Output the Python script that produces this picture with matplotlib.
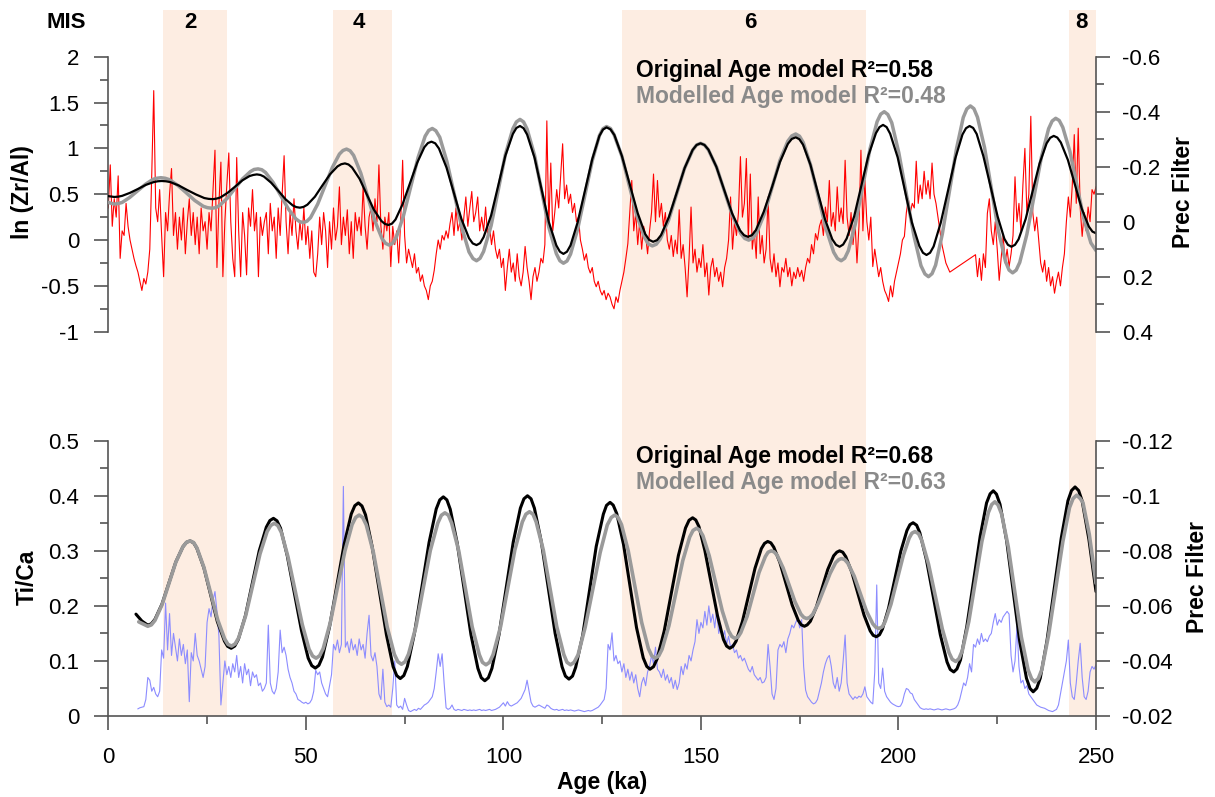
import numpy as np
import matplotlib
matplotlib.use("Agg")
import matplotlib.pyplot as plt
from matplotlib.ticker import MultipleLocator, FuncFormatter

plt.rcParams['font.family'] = ['Liberation Sans', 'DejaVu Sans']
plt.rcParams['axes.unicode_minus'] = False

# marine isotope stages (shaded), ka
mis_labels = ["2", "4", "6", "8"]
mis_start = [13.9, 56.9, 130.0, 243.1]
mis_end = [30.0, 71.7, 191.9, 250.0]
mis_label_x = [20.8, 63.5, 162.5, 246.2]

# ln(Zr/Al), 0.5 ka steps, gap between 213 and 219.5 ka
zr_age = np.r_[np.arange(0, 213.01, 0.5), np.arange(219.5, 250.01, 0.5)]
zr_al = [
    0.35, 0.82, 0.15, 0.45, 0.25, 0.70, -0.20, 0.10, 0.05, 0.40,
    0.15, 0.00, -0.10, -0.20, -0.28, -0.35, -0.45, -0.55, -0.42, -0.48,
    -0.35, -0.10, 0.72, 1.63, 0.35, 0.20, 0.55, 0.05, -0.40, 0.30,
    0.10, 0.50, 0.78, 0.05, 0.30, -0.10, 0.25, 0.00, 0.35, -0.15,
    0.20, 0.45, 0.05, 0.30, -0.05, 0.25, -0.15, 0.35, 0.10, 0.20,
    -0.10, 0.30, 0.10, 0.55, 0.98, -0.30, 0.40, 0.85, -0.40, 0.20,
    0.60, 0.95, 0.20, -0.20, -0.40, 0.90, 0.10, -0.40, 0.30, 0.05,
    -0.38, 0.35, 0.15, 0.55, 0.10, 0.30, -0.40, 0.25, 0.05, 0.20,
    0.30, -0.15, 0.40, 0.10, 0.25, -0.20, 0.35, 0.05, 0.50, 0.92,
    0.20, -0.15, 0.30, 0.05, 0.45, 0.10, -0.10, 0.20, 0.00, 0.35,
    -0.05, 0.15, -0.20, 0.10, -0.35, -0.40, -0.15, 0.25, -0.05, 0.30,
    0.10, -0.30, 0.20, -0.10, 0.35, 0.00, 0.15, 0.58, -0.05, 0.25,
    0.05, 0.33, -0.15, 0.20, -0.20, 0.30, 0.10, 0.25, 0.05, 0.58,
    0.15, -0.10, 0.25, 0.35, 0.10, 0.45, 0.20, 0.82, 0.15, -0.10,
    0.25, 0.10, 0.30, -0.29, 0.15, -0.05, 0.10, -0.25, 0.20, 0.87,
    0.05, -0.25, -0.10, -0.20, -0.30, -0.15, -0.36, -0.30, -0.45, -0.38,
    -0.50, -0.55, -0.65, -0.50, -0.45, -0.33, -0.15, 0.00, -0.10, 0.05,
    0.00, 0.10, 0.02, 0.18, 0.30, 0.05, 0.35, 0.10, 0.20, 0.00,
    0.25, 0.47, 0.15, 0.35, 0.53, 0.20, 0.30, 0.47, 0.10, 0.25,
    0.10, 0.36, 0.05, 0.15, -0.05, 0.10, -0.10, -0.20, -0.10, -0.30,
    -0.20, -0.55, -0.30, -0.10, -0.35, -0.25, -0.45, -0.15, -0.40, -0.50,
    -0.35, -0.07, -0.30, -0.45, -0.65, -0.40, -0.30, -0.45, -0.35, -0.20,
    -0.25, -0.05, 1.30, 0.15, 0.84, 0.10, 0.30, 0.55, 0.35, 0.70,
    1.05, 0.45, 0.60, 0.40, 0.50, 0.30, 0.40, 0.20, 0.25, 0.00,
    -0.10, -0.22, -0.15, -0.30, -0.36, -0.30, -0.45, -0.51, -0.45, -0.55,
    -0.60, -0.55, -0.65, -0.58, -0.62, -0.70, -0.75, -0.62, -0.68, -0.55,
    -0.45, -0.35, -0.20, -0.04, 0.30, 0.65, 0.10, 0.30, -0.05, 0.20,
    -0.10, 0.15, 0.05, -0.15, 0.10, 0.30, 0.72, 0.20, 0.65, 0.25,
    0.40, 0.15, 0.30, 0.00, -0.10, 0.05, -0.18, 0.00, -0.15, 0.33,
    -0.20, -0.05, -0.30, -0.62, -0.20, 0.36, -0.25, -0.10, -0.35, -0.20,
    -0.30, -0.05, -0.40, -0.25, -0.60, -0.30, -0.20, -0.40, -0.30, -0.45,
    -0.35, -0.51, -0.30, -0.20, 0.00, 0.47, -0.10, 0.20, 0.05, 0.30,
    0.91, 0.25, 0.40, 0.89, 0.00, 0.72, -0.10, 0.10, -0.20, 0.47,
    -0.15, 0.05, -0.25, -0.10, 0.47, -0.20, -0.35, -0.15, -0.40, -0.25,
    -0.51, -0.30, -0.35, -0.20, -0.40, -0.30, -0.50, -0.35, -0.42, -0.30,
    -0.40, -0.33, -0.45, -0.30, -0.20, -0.25, -0.05, -0.15, 0.07, 0.00,
    0.15, 0.22, 0.05, 0.36, 0.20, 0.65, 0.15, 0.30, 0.10, 0.58,
    0.20, 0.35, 0.18, 0.87, 0.25, 0.05, 0.30, -0.05, 0.20, -0.25,
    0.15, 0.98, 0.10, 0.65, 0.20, 0.00, 0.25, -0.29, -0.10, -0.25,
    -0.40, -0.30, -0.45, -0.55, -0.60, -0.67, -0.50, -0.62, -0.45, -0.35,
    -0.25, -0.15, 0.00, 0.04, 0.30, 0.45, 0.30, 0.40, 0.35, 0.86,
    0.40, 0.60, 0.45, 0.75, 0.50, 0.65, 0.45, 0.84, 0.50, 0.40,
    0.25, 0.10, -0.05, -0.15, -0.25, -0.30, -0.35,
    -0.16, -0.40, -0.20, -0.44, -0.15, -0.30, 0.29, 0.45, 0.10, -0.05,
    0.20, -0.10, -0.44, -0.20, 0.05, -0.25, -0.10, -0.29, -0.15, 0.05,
    0.69, 0.20, 0.40, 0.10, 0.60, 1.00, 0.30, 0.50, 1.35, 0.30,
    0.10, 0.25, 0.00, -0.25, -0.35, -0.22, -0.45, -0.30, -0.50, -0.40,
    -0.58, -0.45, -0.35, -0.50, -0.30, -0.15, 0.20, 0.47, 0.25, 0.60,
    1.15, 0.40, 1.22, 0.35, 0.04, 0.30, 0.10, 0.36, 0.20, 0.55,
    0.50, 0.58,
]

# Ti/Ca, 0.5 ka steps from 7.5 ka
tica_age = np.arange(7.5, 250.01, 0.5)
ti_ca = [
    0.013, 0.015, 0.016, 0.017, 0.030, 0.070, 0.065, 0.045, 0.052, 0.040,
    0.035, 0.045, 0.120, 0.105, 0.205, 0.120, 0.186, 0.110, 0.150, 0.125,
    0.100, 0.140, 0.110, 0.130, 0.095, 0.120, 0.026, 0.115, 0.100, 0.150,
    0.110, 0.100, 0.085, 0.070, 0.090, 0.170, 0.195, 0.180, 0.210, 0.226,
    0.190, 0.145, 0.020, 0.060, 0.100, 0.075, 0.090, 0.070, 0.095, 0.080,
    0.110, 0.070, 0.090, 0.060, 0.095, 0.075, 0.085, 0.055, 0.080, 0.070,
    0.075, 0.055, 0.060, 0.045, 0.050, 0.060, 0.165, 0.060, 0.045, 0.040,
    0.050, 0.080, 0.156, 0.115, 0.125, 0.110, 0.085, 0.070, 0.060, 0.045,
    0.040, 0.030, 0.028, 0.025, 0.023, 0.025, 0.022, 0.024, 0.030, 0.045,
    0.083, 0.075, 0.080, 0.060, 0.050, 0.040, 0.035, 0.055, 0.075, 0.130,
    0.120, 0.138, 0.115, 0.130, 0.417, 0.125, 0.135, 0.115, 0.140, 0.120,
    0.130, 0.110, 0.140, 0.120, 0.130, 0.105, 0.150, 0.183, 0.110, 0.100,
    0.115, 0.090, 0.040, 0.030, 0.085, 0.025, 0.017, 0.020, 0.016, 0.050,
    0.100, 0.020, 0.015, 0.018, 0.012, 0.032, 0.020, 0.010, 0.008, 0.010,
    0.012, 0.010, 0.014, 0.012, 0.016, 0.020, 0.022, 0.025, 0.030, 0.035,
    0.050, 0.080, 0.113, 0.090, 0.113, 0.060, 0.015, 0.012, 0.014, 0.020,
    0.012, 0.010, 0.012, 0.011, 0.010, 0.012, 0.011, 0.010, 0.011, 0.010,
    0.011, 0.010, 0.011, 0.012, 0.010, 0.011, 0.010, 0.011, 0.012, 0.010,
    0.011, 0.012, 0.014, 0.016, 0.020, 0.024, 0.018, 0.026, 0.020, 0.018,
    0.020, 0.022, 0.024, 0.028, 0.032, 0.040, 0.048, 0.065, 0.045, 0.025,
    0.018, 0.016, 0.018, 0.020, 0.018, 0.016, 0.014, 0.020, 0.018, 0.014,
    0.012, 0.011, 0.012, 0.010, 0.011, 0.012, 0.010, 0.011, 0.010, 0.011,
    0.010, 0.009, 0.010, 0.011, 0.010, 0.009, 0.008, 0.009, 0.010, 0.009,
    0.010, 0.012, 0.014, 0.016, 0.020, 0.025, 0.030, 0.050, 0.130, 0.120,
    0.151, 0.100, 0.110, 0.095, 0.100, 0.080, 0.095, 0.070, 0.085, 0.065,
    0.080, 0.060, 0.075, 0.050, 0.035, 0.060, 0.070, 0.055, 0.080, 0.090,
    0.110, 0.095, 0.125, 0.085, 0.080, 0.070, 0.085, 0.065, 0.075, 0.060,
    0.070, 0.050, 0.065, 0.048, 0.060, 0.090, 0.075, 0.095, 0.085, 0.110,
    0.100, 0.120, 0.135, 0.175, 0.150, 0.170, 0.160, 0.190, 0.165, 0.200,
    0.170, 0.185, 0.160, 0.195, 0.150, 0.165, 0.140, 0.155, 0.130, 0.145,
    0.125, 0.130, 0.115, 0.120, 0.105, 0.110, 0.100, 0.105, 0.095, 0.085,
    0.080, 0.090, 0.075, 0.070, 0.065, 0.070, 0.060, 0.062, 0.070, 0.130,
    0.090, 0.040, 0.030, 0.050, 0.120, 0.130, 0.125, 0.135, 0.115, 0.140,
    0.150, 0.165, 0.160, 0.170, 0.177, 0.160, 0.175, 0.090, 0.047, 0.035,
    0.030, 0.025, 0.022, 0.024, 0.030, 0.045, 0.060, 0.080, 0.095, 0.105,
    0.110, 0.090, 0.060, 0.050, 0.070, 0.045, 0.060, 0.100, 0.147, 0.060,
    0.040, 0.035, 0.030, 0.035, 0.032, 0.036, 0.034, 0.040, 0.053, 0.035,
    0.030, 0.025, 0.022, 0.080, 0.238, 0.060, 0.050, 0.087, 0.045, 0.035,
    0.030, 0.025, 0.022, 0.020, 0.018, 0.017, 0.018, 0.025, 0.040, 0.050,
    0.048, 0.042, 0.040, 0.030, 0.025, 0.020, 0.015, 0.013, 0.012, 0.013,
    0.012, 0.013, 0.012, 0.011, 0.012, 0.013, 0.012, 0.011, 0.012, 0.013,
    0.012, 0.011, 0.012, 0.013, 0.015, 0.020, 0.030, 0.045, 0.060, 0.055,
    0.070, 0.095, 0.080, 0.130, 0.125, 0.140, 0.130, 0.150, 0.135, 0.140,
    0.135, 0.145, 0.150, 0.170, 0.186, 0.165, 0.175, 0.170, 0.180, 0.185,
    0.190, 0.185, 0.110, 0.080, 0.100, 0.164, 0.090, 0.060, 0.065, 0.050,
    0.055, 0.040, 0.035, 0.030, 0.025, 0.020, 0.018, 0.016, 0.015, 0.014,
    0.012, 0.010, 0.009, 0.008, 0.010, 0.012, 0.020, 0.040, 0.060, 0.080,
    0.100, 0.138, 0.060, 0.035, 0.030, 0.060, 0.100, 0.132, 0.070, 0.035,
    0.030, 0.045, 0.080, 0.090, 0.085, 0.093,
]

# precession filter, (age ka, value)
zr_prec_orig = [
    (0, -0.093), (1.5, -0.090), (2.5, -0.091), (3.5, -0.094), (5.5, -0.105), (7.5, -0.119), (9.5, -0.134), (11.5, -0.144), (12.5, -0.147),
    (13.5, -0.148), (14.6, -0.147), (15.7, -0.144), (17.8, -0.132), (20.0, -0.115), (22.2, -0.099), (24.3, -0.086), (25.4, -0.083),
    (26.5, -0.082), (27.4, -0.084), (28.35, -0.088), (30.2, -0.105), (32.05, -0.127), (33.9, -0.150), (35.75, -0.166), (36.7, -0.170),
    (37.6, -0.172), (38.5, -0.170), (39.4, -0.164), (41.2, -0.142), (43.05, -0.112), (44.9, -0.081), (46.7, -0.059), (47.6, -0.053),
    (48.5, -0.051), (49.45, -0.054), (50.4, -0.062), (52.3, -0.091), (54.2, -0.132), (56.1, -0.172), (58.0, -0.201), (58.95, -0.209),
    (59.9, -0.212), (60.8, -0.208), (61.7, -0.197), (63.6, -0.156), (65.4, -0.100), (67.2, -0.044), (69.1, -0.003), (70.0, 0.008),
    (70.9, 0.012), (71.8, 0.007), (72.7, -0.008), (74.5, -0.064), (76.35, -0.140), (78.2, -0.215), (80.0, -0.271), (80.9, -0.286),
    (81.8, -0.291), (82.75, -0.285), (83.7, -0.266), (85.6, -0.197), (87.5, -0.103), (89.4, -0.009), (91.3, 0.060), (92.25, 0.079),
    (93.2, 0.085), (94.1, 0.078), (95.0, 0.056), (96.9, -0.023), (98.7, -0.132), (100.5, -0.240), (102.4, -0.319), (103.3, -0.341),
    (104.2, -0.348), (105.1, -0.340), (106.0, -0.317), (107.9, -0.232), (109.7, -0.116), (111.5, 0.001), (113.4, 0.086), (114.3, 0.109),
    (115.2, 0.117), (116.1, 0.109), (117.0, 0.086), (118.8, 0.002), (120.65, -0.113), (122.5, -0.228), (124.3, -0.312), (125.2, -0.335),
    (126.1, -0.343), (127.1, -0.336), (128.1, -0.315), (130.0, -0.239), (132.0, -0.135), (134.0, -0.031), (135.9, 0.045), (136.9, 0.066),
    (137.9, 0.073), (138.9, 0.067), (139.9, 0.049), (141.9, -0.017), (143.9, -0.106), (145.9, -0.196), (147.9, -0.261), (148.9, -0.279),
    (149.9, -0.285), (150.9, -0.279), (151.9, -0.262), (153.9, -0.200), (155.9, -0.115), (157.9, -0.030), (159.9, 0.032), (160.9, 0.049),
    (161.9, 0.055), (162.9, 0.049), (163.9, 0.031), (165.9, -0.036), (168.0, -0.126), (170.0, -0.217), (172.0, -0.283), (173.0, -0.301),
    (174.0, -0.307), (174.9, -0.300), (175.85, -0.280), (177.7, -0.208), (179.55, -0.108), (181.4, -0.009), (183.25, 0.064), (184.2, 0.084),
    (185.1, 0.091), (186.0, 0.083), (186.9, 0.061), (188.8, -0.020), (190.6, -0.131), (192.4, -0.241), (194.3, -0.322), (195.2, -0.344),
    (196.1, -0.352), (197.0, -0.344), (197.9, -0.320), (199.8, -0.234), (201.6, -0.116), (203.4, 0.003), (205.3, 0.089), (206.2, 0.113),
    (207.1, 0.121), (208.0, 0.113), (208.9, 0.090), (210.7, 0.004), (212.55, -0.114), (214.4, -0.231), (216.2, -0.317), (217.1, -0.340),
    (218.0, -0.348), (218.9, -0.341), (219.8, -0.319), (221.5, -0.238), (223.3, -0.129), (225.1, -0.019), (226.8, 0.062), (227.7, 0.084),
    (228.6, 0.091), (229.5, 0.084), (230.4, 0.064), (232.2, -0.010), (233.95, -0.111), (235.7, -0.211), (237.5, -0.285), (238.4, -0.305),
    (239.3, -0.312), (240.2, -0.306), (241.1, -0.288), (242.9, -0.224), (244.65, -0.135), (246.4, -0.047), (248.2, 0.018), (249.1, 0.036),
    (250.0, 0.042),
]
zr_prec_mod = [
    (0, -0.070), (1.5, -0.064), (2.5, -0.066), (3.5, -0.070), (5.4, -0.088), (7.4, -0.112), (9.4, -0.136), (11.3, -0.154), (12.3, -0.158),
    (13.3, -0.160), (14.4, -0.158), (15.45, -0.153), (17.6, -0.132), (19.75, -0.105), (21.9, -0.077), (24.05, -0.056), (25.1, -0.051),
    (26.2, -0.049), (27.2, -0.051), (28.15, -0.059), (30.1, -0.085), (32.05, -0.121), (34.0, -0.156), (35.95, -0.182), (36.9, -0.190),
    (37.9, -0.192), (38.85, -0.189), (39.8, -0.179), (41.7, -0.143), (43.65, -0.095), (45.6, -0.046), (47.5, -0.010), (48.45, 0.000),
    (49.4, 0.003), (50.3, -0.002), (51.2, -0.015), (53.0, -0.064), (54.85, -0.131), (56.7, -0.197), (58.5, -0.246), (59.4, -0.259),
    (60.3, -0.264), (61.2, -0.258), (62.1, -0.241), (63.9, -0.177), (65.7, -0.090), (67.5, -0.002), (69.3, 0.062), (70.2, 0.079),
    (71.1, 0.085), (72.0, 0.078), (72.9, 0.057), (74.7, -0.021), (76.55, -0.127), (78.4, -0.233), (80.2, -0.311), (81.1, -0.332),
    (82.0, -0.339), (82.9, -0.331), (83.9, -0.307), (85.7, -0.219), (87.6, -0.099), (89.5, 0.022), (91.3, 0.110), (92.3, 0.134),
    (93.2, 0.142), (94.1, 0.133), (95.0, 0.108), (96.9, 0.014), (98.7, -0.115), (100.5, -0.244), (102.4, -0.338), (103.3, -0.363),
    (104.2, -0.372), (105.1, -0.363), (106.0, -0.337), (107.9, -0.241), (109.7, -0.111), (111.5, 0.020), (113.4, 0.116), (114.3, 0.142),
    (115.2, 0.151), (116.1, 0.143), (117.0, 0.118), (118.8, 0.027), (120.65, -0.098), (122.5, -0.222), (124.3, -0.313), (125.2, -0.338),
    (126.1, -0.346), (127.1, -0.339), (128.0, -0.317), (130.0, -0.238), (131.9, -0.129), (133.8, -0.021), (135.8, 0.059), (136.7, 0.081),
    (137.7, 0.088), (138.7, 0.082), (139.7, 0.063), (141.8, -0.005), (143.8, -0.099), (145.8, -0.192), (147.9, -0.260), (148.9, -0.279),
    (149.9, -0.285), (150.9, -0.279), (151.9, -0.261), (154.0, -0.197), (156.0, -0.109), (158.0, -0.021), (160.1, 0.043), (161.1, 0.061),
    (162.1, 0.067), (163.1, 0.060), (164.1, 0.041), (166.1, -0.030), (168.05, -0.126), (170.0, -0.223), (172.0, -0.293), (173.0, -0.312),
    (174.0, -0.319), (174.95, -0.311), (175.9, -0.288), (177.8, -0.204), (179.75, -0.089), (181.7, 0.027), (183.6, 0.111), (184.55, 0.134),
    (185.5, 0.142), (186.4, 0.133), (187.3, 0.106), (189.1, 0.007), (190.95, -0.129), (192.8, -0.265), (194.6, -0.364), (195.5, -0.391),
    (196.4, -0.400), (197.3, -0.390), (198.3, -0.360), (200.1, -0.250), (202.0, -0.100), (203.9, 0.050), (205.7, 0.160), (206.7, 0.190),
    (207.6, 0.200), (208.5, 0.189), (209.4, 0.158), (211.1, 0.045), (212.9, -0.111), (214.7, -0.266), (216.4, -0.379), (217.3, -0.410),
    (218.2, -0.421), (219.1, -0.411), (220.0, -0.380), (221.8, -0.269), (223.55, -0.118), (225.3, 0.034), (227.1, 0.145), (228.0, 0.176),
    (228.9, 0.186), (229.8, 0.176), (230.7, 0.148), (232.5, 0.046), (234.35, -0.095), (236.2, -0.236), (238.0, -0.338), (238.9, -0.366),
    (239.8, -0.376), (240.7, -0.368), (241.6, -0.343), (243.4, -0.255), (245.15, -0.133), (246.9, -0.012), (248.7, 0.077),
    (250.0, 0.105),
]
ti_prec_orig = [
    (7.0, -0.0570), (8.5, -0.0545), (10.0, -0.0530), (10.9, -0.0535),
    (11.8, -0.0551), (13.6, -0.0607), (15.35, -0.0683), (17.1, -0.0760), (18.9, -0.0815), (19.8, -0.0831),
    (20.7, -0.0836), (21.6, -0.0829), (22.4, -0.0810), (24.2, -0.0738), (25.9, -0.0641), (27.6, -0.0543), (29.4, -0.0472), (30.2, -0.0453),
    (31.1, -0.0446), (32.0, -0.0454), (32.9, -0.0478), (34.7, -0.0564), (36.45, -0.0682), (38.2, -0.0800), (40.0, -0.0886), (40.9, -0.0910),
    (41.8, -0.0918), (42.7, -0.0909), (43.6, -0.0882), (45.3, -0.0782), (47.1, -0.0646), (48.9, -0.0510), (50.6, -0.0410), (51.5, -0.0383),
    (52.4, -0.0374), (53.3, -0.0384), (54.2, -0.0414), (56.0, -0.0524), (57.85, -0.0674), (59.7, -0.0824), (61.5, -0.0934), (62.4, -0.0964),
    (63.3, -0.0974), (64.2, -0.0963), (65.1, -0.0931), (66.8, -0.0814), (68.6, -0.0655), (70.4, -0.0495), (72.1, -0.0379), (73.0, -0.0347),
    (73.9, -0.0336), (74.8, -0.0347), (75.7, -0.0380), (77.5, -0.0501), (79.35, -0.0666), (81.2, -0.0831), (83.0, -0.0952), (83.9, -0.0985),
    (84.8, -0.0996), (85.7, -0.0985), (86.55, -0.0951), (88.3, -0.0829), (90.05, -0.0662), (91.8, -0.0495), (93.55, -0.0373), (94.4, -0.0339),
    (95.3, -0.0328), (96.2, -0.0339), (97.1, -0.0373), (98.9, -0.0496), (100.7, -0.0664), (102.5, -0.0832), (104.3, -0.0955), (105.2, -0.0989),
    (106.1, -0.1000), (107.0, -0.0989), (107.85, -0.0955), (109.6, -0.0833), (111.35, -0.0667), (113.1, -0.0500), (114.85, -0.0379), (115.7, -0.0345),
    (116.6, -0.0334), (117.5, -0.0345), (118.3, -0.0377), (120.1, -0.0495), (121.8, -0.0655), (123.5, -0.0816), (125.3, -0.0933), (126.1, -0.0965),
    (127.0, -0.0976), (127.8, -0.0966), (128.7, -0.0935), (130.4, -0.0824), (132.05, -0.0673), (133.7, -0.0521), (135.4, -0.0411), (136.3, -0.0380),
    (137.1, -0.0370), (138.0, -0.0379), (138.9, -0.0407), (140.7, -0.0508), (142.5, -0.0645), (144.3, -0.0783), (146.1, -0.0883), (147.0, -0.0911),
    (147.9, -0.0920), (148.7, -0.0912), (149.5, -0.0888), (151.0, -0.0801), (152.6, -0.0683), (154.2, -0.0564), (155.7, -0.0478), (156.5, -0.0454),
    (157.3, -0.0446), (158.1, -0.0453), (158.9, -0.0472), (160.5, -0.0543), (162.1, -0.0640), (163.7, -0.0737), (165.3, -0.0808), (166.1, -0.0827),
    (166.9, -0.0834), (167.7, -0.0829), (168.45, -0.0813), (170.0, -0.0757), (171.55, -0.0680), (173.1, -0.0603), (174.65, -0.0547), (175.4, -0.0531),
    (176.2, -0.0526), (176.9, -0.0531), (177.7, -0.0544), (179.2, -0.0595), (180.65, -0.0663), (182.1, -0.0732), (183.6, -0.0782), (184.4, -0.0795),
    (185.1, -0.0800), (185.9, -0.0795), (186.65, -0.0779), (188.2, -0.0722), (189.75, -0.0644), (191.3, -0.0566), (192.85, -0.0509), (193.6, -0.0493),
    (194.4, -0.0488), (195.2, -0.0495), (195.95, -0.0516), (197.5, -0.0592), (199.05, -0.0695), (200.6, -0.0799), (202.15, -0.0874), (202.9, -0.0895),
    (203.7, -0.0902), (204.6, -0.0893), (205.4, -0.0866), (207.1, -0.0766), (208.85, -0.0631), (210.6, -0.0495), (212.3, -0.0396), (213.1, -0.0369),
    (214.0, -0.0360), (214.8, -0.0371), (215.7, -0.0404), (217.3, -0.0525), (219.0, -0.0689), (220.7, -0.0854), (222.3, -0.0974), (223.2, -0.1007),
    (224.0, -0.1018), (224.8, -0.1006), (225.7, -0.0969), (227.4, -0.0835), (229.05, -0.0653), (230.7, -0.0470), (232.4, -0.0337), (233.3, -0.0300),
    (234.1, -0.0288), (235.0, -0.0301), (235.9, -0.0338), (237.6, -0.0474), (239.4, -0.0660), (241.2, -0.0846), (242.9, -0.0982), (243.8, -0.1019),
    (244.7, -0.1032), (245.6, -0.1019), (246.5, -0.0981), (248.2, -0.0842), (250.0, -0.0652),
]
ti_prec_mod = [
    (7.7, -0.0542), (10.0, -0.0526), (10.9, -0.0531),
    (11.8, -0.0547), (13.6, -0.0604), (15.35, -0.0681), (17.1, -0.0759), (18.9, -0.0815), (19.8, -0.0831),
    (20.7, -0.0836), (21.6, -0.0830), (22.45, -0.0810), (24.2, -0.0740), (25.95, -0.0645), (27.7, -0.0549), (29.45, -0.0480), (30.3, -0.0460),
    (31.2, -0.0454), (32.1, -0.0462), (33.0, -0.0484), (34.8, -0.0566), (36.6, -0.0677), (38.4, -0.0789), (40.2, -0.0870), (41.1, -0.0892),
    (42.0, -0.0900), (42.9, -0.0892), (43.8, -0.0867), (45.5, -0.0777), (47.3, -0.0655), (49.1, -0.0532), (50.8, -0.0443), (51.7, -0.0418),
    (52.6, -0.0410), (53.5, -0.0419), (54.4, -0.0445), (56.2, -0.0540), (58.05, -0.0670), (59.9, -0.0800), (61.7, -0.0895), (62.6, -0.0921),
    (63.5, -0.0930), (64.4, -0.0921), (65.3, -0.0894), (67.1, -0.0794), (68.85, -0.0659), (70.6, -0.0523), (72.4, -0.0424), (73.3, -0.0397),
    (74.2, -0.0388), (75.1, -0.0397), (76.0, -0.0425), (77.9, -0.0526), (79.7, -0.0663), (81.5, -0.0801), (83.4, -0.0901), (84.3, -0.0929),
    (85.2, -0.0938), (86.1, -0.0929), (86.9, -0.0901), (88.7, -0.0800), (90.4, -0.0662), (92.1, -0.0524), (93.9, -0.0423), (94.7, -0.0395),
    (95.6, -0.0386), (96.5, -0.0395), (97.4, -0.0423), (99.3, -0.0525), (101.1, -0.0664), (102.9, -0.0803), (104.8, -0.0905), (105.7, -0.0933),
    (106.6, -0.0942), (107.5, -0.0933), (108.3, -0.0905), (110.1, -0.0803), (111.8, -0.0664), (113.5, -0.0525), (115.3, -0.0423), (116.1, -0.0395),
    (117.0, -0.0386), (117.9, -0.0395), (118.9, -0.0422), (120.7, -0.0522), (122.6, -0.0658), (124.5, -0.0794), (126.3, -0.0894), (127.3, -0.0921),
    (128.2, -0.0930), (129.05, -0.0921), (129.9, -0.0895), (131.6, -0.0800), (133.3, -0.0670), (135.0, -0.0540), (136.7, -0.0445), (137.55, -0.0419),
    (138.4, -0.0410), (139.3, -0.0418), (140.15, -0.0442), (141.9, -0.0528), (143.65, -0.0646), (145.4, -0.0764), (147.15, -0.0850), (148.0, -0.0874),
    (148.9, -0.0882), (149.7, -0.0875), (150.5, -0.0855), (152.1, -0.0782), (153.75, -0.0682), (155.4, -0.0582), (157.0, -0.0509), (157.8, -0.0489),
    (158.6, -0.0482), (159.4, -0.0487), (160.1, -0.0503), (161.7, -0.0562), (163.2, -0.0641), (164.7, -0.0721), (166.3, -0.0779), (167.0, -0.0795),
    (167.8, -0.0800), (168.55, -0.0796), (169.3, -0.0784), (170.8, -0.0738), (172.3, -0.0677), (173.8, -0.0615), (175.3, -0.0570), (176.05, -0.0558),
    (176.8, -0.0554), (177.5, -0.0558), (178.3, -0.0569), (179.7, -0.0609), (181.2, -0.0663), (182.7, -0.0718), (184.1, -0.0757), (184.9, -0.0768),
    (185.6, -0.0772), (186.4, -0.0768), (187.2, -0.0755), (188.8, -0.0708), (190.35, -0.0645), (191.9, -0.0581), (193.5, -0.0535), (194.3, -0.0522),
    (195.1, -0.0518), (195.9, -0.0524), (196.6, -0.0542), (198.1, -0.0606), (199.65, -0.0694), (201.2, -0.0782), (202.7, -0.0846), (203.4, -0.0864),
    (204.2, -0.0870), (205.1, -0.0862), (205.9, -0.0838), (207.6, -0.0752), (209.35, -0.0634), (211.1, -0.0516), (212.8, -0.0430), (213.6, -0.0406),
    (214.5, -0.0398), (215.3, -0.0408), (216.15, -0.0437), (217.8, -0.0543), (219.45, -0.0688), (221.1, -0.0833), (222.75, -0.0939), (223.6, -0.0968),
    (224.4, -0.0978), (225.2, -0.0967), (226.1, -0.0934), (227.8, -0.0814), (229.45, -0.0651), (231.1, -0.0487), (232.8, -0.0368), (233.7, -0.0335),
    (234.5, -0.0324), (235.4, -0.0336), (236.3, -0.0369), (238.0, -0.0494), (239.8, -0.0663), (241.6, -0.0833), (243.3, -0.0957), (244.2, -0.0990),
    (245.1, -0.1002), (246.0, -0.0990), (246.7, -0.0975), (248.3, -0.0860), (250.0, -0.0682),
]

W, H = 1215, 797
spine_c = '#555555'
grey_line = '#9a9a9a'
band_c = '#fdede2'
smooth = dict(solid_joinstyle='round', solid_capstyle='round')


def fx(px):
    return px / W


def fy(py):
    return 1 - py / H


def fmt(v, pos):
    s = f"{v:g}"
    return "0" if s == "-0" else s


def style_y(ax, major, minor, pad):
    ax.yaxis.set_major_locator(MultipleLocator(major))
    ax.yaxis.set_minor_locator(MultipleLocator(minor))
    ax.yaxis.set_major_formatter(FuncFormatter(fmt))
    ax.tick_params(axis='y', which='major', direction='out', length=10, width=1.2,
                   color=spine_c, labelsize=16, pad=pad)
    ax.tick_params(axis='y', which='minor', direction='out', length=6, width=1.2, color=spine_c)
    for sp in ax.spines.values():
        sp.set_color(spine_c)
        sp.set_linewidth(1.2)


fig = plt.figure(figsize=(W / 100, H / 100), dpi=100)
x0, x1 = 108.3, 1096

# shaded MIS bands through both panels
ax_bg = fig.add_axes([fx(x0), fy(716), fx(x1) - fx(x0), fy(10) - fy(716)])
ax_bg.set_xlim(0, 250)
ax_bg.set_ylim(0, 1)
ax_bg.axis('off')
for s, e in zip(mis_start, mis_end):
    ax_bg.axvspan(s, e, color=band_c, lw=0)
mis_y = (716 - 23) / 706
ax_bg.text(-10.7, mis_y, "MIS", fontsize=16, fontweight='bold', ha='center', va='center')
for lab, xl in zip(mis_labels, mis_label_x):
    ax_bg.text(xl, mis_y, lab, fontsize=16, fontweight='bold', ha='center', va='center')

# top panel: ln(Zr/Al)
ax1 = fig.add_axes([fx(x0), fy(331.7), fx(x1) - fx(x0), fy(56.7) - fy(331.7)], facecolor='none')
ax1.plot(zr_age, zr_al, color='#ff0000', lw=0.8)
ax1.set_xlim(0, 250)
ax1.set_ylim(-1, 2)
ax1.spines[['top', 'bottom', 'right']].set_visible(False)
ax1.tick_params(axis='x', which='both', bottom=False, labelbottom=False)
style_y(ax1, 0.5, 0.25, 11)

ax1r = ax1.twinx()
a, v = np.array(zr_prec_mod).T
ax1r.plot(a, v, color=grey_line, lw=2.5, **smooth)
a, v = np.array(zr_prec_orig).T
ax1r.plot(a, v, color='black', lw=1.6, **smooth)
ax1r.set_ylim(0.4, -0.6)
ax1r.spines[['top', 'bottom', 'left']].set_visible(False)
style_y(ax1r, 0.2, 0.1, 9)

# bottom panel: Ti/Ca
ax2 = fig.add_axes([fx(x0), fy(716), fx(x1) - fx(x0), fy(440.7) - fy(716)], facecolor='none')
ax2.plot(tica_age, ti_ca, color='#8c8cff', lw=0.8)
ax2.set_xlim(0, 250)
ax2.set_ylim(0, 0.5)
ax2.spines[['top', 'right']].set_visible(False)
style_y(ax2, 0.1, 0.05, 11)
ax2.xaxis.set_major_locator(MultipleLocator(50))
ax2.xaxis.set_minor_locator(MultipleLocator(25))
ax2.tick_params(axis='x', which='major', direction='out', length=10, width=1.2,
                color=spine_c, labelsize=16, pad=12)
ax2.tick_params(axis='x', which='minor', direction='out', length=6, width=1.2, color=spine_c)

ax2r = ax2.twinx()
a, v = np.array(ti_prec_orig).T
ax2r.plot(a, v, color='black', lw=2.2, **smooth)
a, v = np.array(ti_prec_mod).T
ax2r.plot(a, v, color=grey_line, lw=2.6, **smooth)
ax2r.set_ylim(-0.02, -0.12)
ax2r.spines[['top', 'bottom', 'left']].set_visible(False)
style_y(ax2r, 0.02, 0.01, 9)

# axis titles
lab = dict(fontsize=16.5, fontweight='bold', ha='center', va='center')
fig.text(fx(22), fy(192.5), "ln (Zr/Al)", rotation=90, **lab)
fig.text(fx(27), fy(577), "Ti/Ca", rotation=90, **lab)
fig.text(fx(1183), fy(192.5), "Prec Filter", rotation=90, **lab)
fig.text(fx(1197), fy(577), "Prec Filter", rotation=90, **lab)
fig.text(fx(602), fy(783), "Age (ka)", **lab)

# fit annotations
note = dict(fontsize=16.5, fontweight='bold', ha='left', va='baseline')
fig.text(fx(636), fy(77), "Original Age model R\u00b2=0.58", color='black', **note)
fig.text(fx(636), fy(103), "Modelled Age model R\u00b2=0.48", color='#8a8a8a', **note)
fig.text(fx(636), fy(463), "Original Age model R\u00b2=0.68", color='black', **note)
fig.text(fx(636), fy(489), "Modelled Age model R\u00b2=0.63", color='#8a8a8a', **note)

fig.savefig("out.png", dpi=100)
